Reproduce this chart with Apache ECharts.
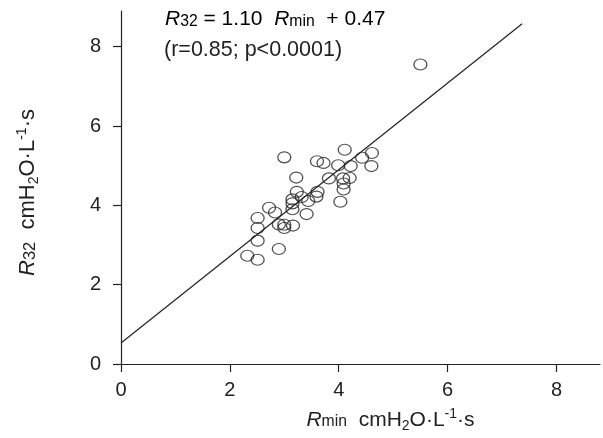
<!DOCTYPE html>
<html>
<head>
<meta charset="utf-8">
<script src="https://cdn.jsdelivr.net/npm/echarts@6/dist/echarts.min.js"></script>
<style>
  html, body { margin: 0; padding: 0; background: #fff; }
  #chart { width: 603px; height: 438px; }
</style>
</head>
<body>
<div id="chart"></div>
<script>
// Rmin values (x) and R32 values (y)
const rmin = [3.00, 4.11, 4.61, 4.43, 3.60, 3.72, 3.99, 4.22, 4.60, 3.22,
  3.82, 4.20, 4.08, 4.09, 4.09, 3.23, 3.61, 3.59, 3.32, 3.44,
  3.15, 3.15, 3.15, 4.03, 2.72, 2.83, 3.41, 2.51, 2.90, 3.00,
  3.16, 3.00, 2.51, 2.51, 2.90, 2.32, 2.51, 5.50]
const r32 = [5.21, 5.40, 5.32, 5.20, 5.11, 5.07, 5.01, 4.99, 4.99, 4.70,
  4.68, 4.69, 4.68, 4.55, 4.40, 4.34, 4.34, 4.22, 4.21, 4.11,
  4.15, 4.05, 3.90, 4.09, 3.94, 3.82, 3.78, 3.68, 3.52, 3.51,
  3.49, 3.43, 3.43, 3.11, 2.90, 2.73, 2.63, 7.55]
// regression line as drawn (start and end points)
const fitX = [0, 7.37]
const fitY = [0.53, 8.58]
const xTicks = [0, 2, 4, 6, 8]
const yTicks = [0, 2, 4, 6, 8]

const ink = '#222'
const font = '"Liberation Sans", Arial, sans-serif'

// rich styles for the unit labels: H2 subscript, L-1 superscript
function richSet(fs) {
  return {
    it: { fontSize: fs, fontStyle: 'italic', lineHeight: 26, color: ink, fontFamily: font },
    sm: { fontSize: fs * 0.75, padding: [4, 0, 0, 0], color: ink, fontFamily: font },
    sub: { fontSize: 14, lineHeight: 12, verticalAlign: 'bottom', color: ink, fontFamily: font },
    sup: { fontSize: 14, lineHeight: 14, verticalAlign: 'top', color: ink, fontFamily: font },
    n: { fontSize: fs, lineHeight: 26, color: ink, fontFamily: font }
  }
}
const unit = '{n|  cmH}{sub|2}{n|O·L}{sup|-1}{n|·s}'

const chart = echarts.init(document.getElementById('chart'))

const axisCommon = {
  type: 'value',
  splitLine: { show: false },
  axisLine: { show: true, lineStyle: { color: ink, width: 1.2 } },
  axisTick: { show: true, inside: false, length: 8, lineStyle: { color: ink, width: 1.2 } },
  nameLocation: 'middle'
}

chart.setOption({
  animation: false,
  grid: { left: 121, right: 3, top: 11, bottom: 71 },
  xAxis: Object.assign({}, axisCommon, {
    min: 0, max: 8.8,
    axisTick: Object.assign({}, axisCommon.axisTick, { customValues: xTicks }),
    axisLabel: { customValues: xTicks, fontSize: 20, color: ink, fontFamily: font, margin: 16 },
    name: '{it|R}{sm|min}' + unit,
    nameGap: 43,
    nameTextStyle: { rich: richSet(21), padding: [0, 0, 0, 60] }
  }),
  yAxis: Object.assign({}, axisCommon, {
    min: 0, max: 8.9,
    axisTick: Object.assign({}, axisCommon.axisTick, { customValues: yTicks }),
    axisLabel: { customValues: yTicks, fontSize: 20, color: ink, fontFamily: font, margin: 20 },
    name: '{it|R}{sm|32}' + unit,
    nameGap: 80,
    nameTextStyle: { rich: richSet(22), padding: [0, 10, 0, 0] }
  }),
  graphic: [
    {
      type: 'text', left: 165, top: 9,
      style: {
        text: '{it|R}{sm|32}{n| = 1.10  }{it|R}{sm|min}{n|  + 0.47}',
        rich: richSet(21)
      }
    },
    {
      type: 'text', left: 164, top: 39,
      style: { text: '(r=0.85; p<0.0001)', fill: ink, font: '21.5px ' + font }
    }
  ],
  series: [
    {
      type: 'line',
      data: fitX.map((x, i) => [x, fitY[i]]),
      showSymbol: false,
      lineStyle: { color: ink, width: 1.2 },
      silent: true
    },
    {
      type: 'scatter',
      data: rmin.map((x, i) => [x, r32[i]]),
      symbol: 'circle',
      symbolSize: [13, 11],
      itemStyle: { color: 'rgba(0,0,0,0)', borderColor: ink, borderWidth: 1.2 }
    }
  ]
})
</script>
</body>
</html>
